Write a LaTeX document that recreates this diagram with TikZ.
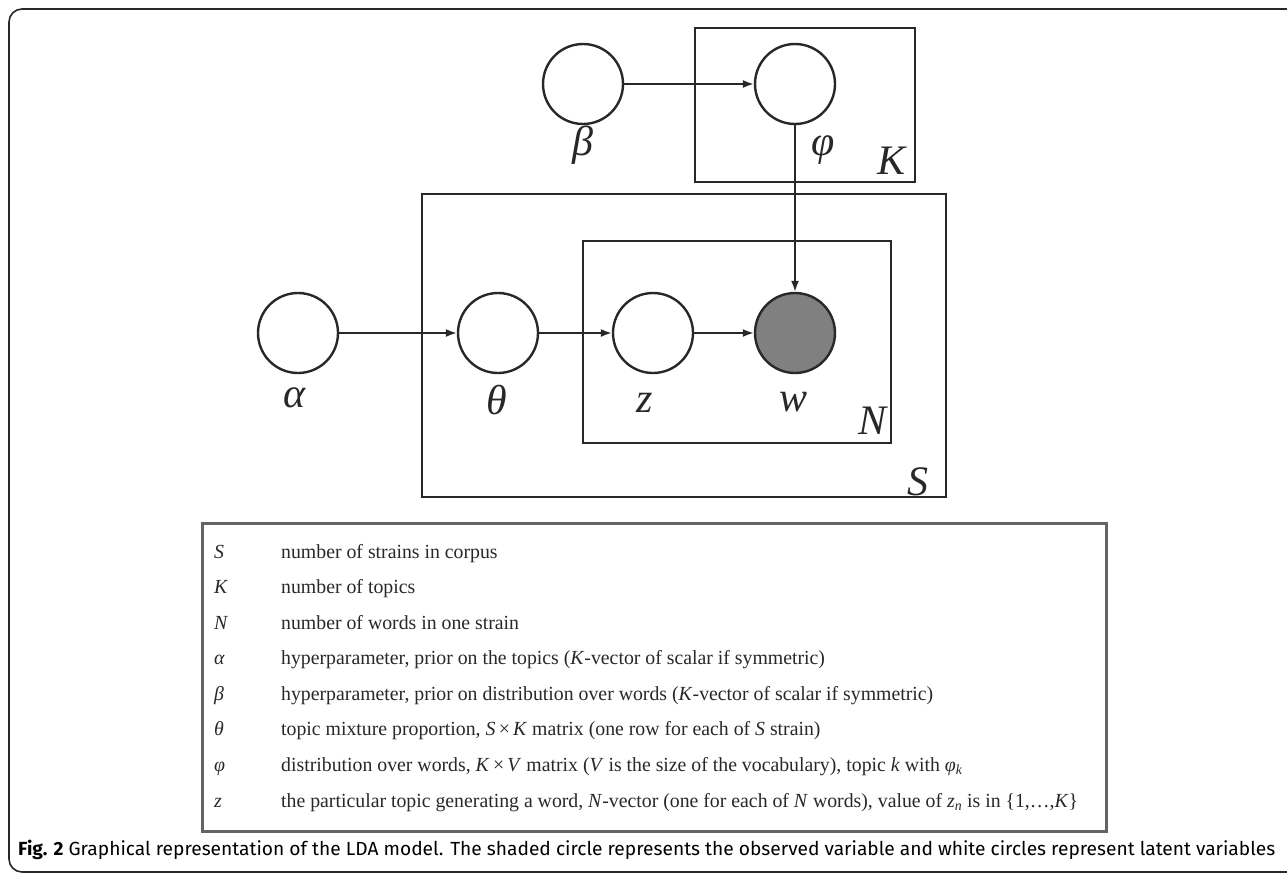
\documentclass[tikz,border=0pt]{standalone}
\usepackage{fontspec}
\usepackage{graphicx}
\setmainfont{Liberation Serif}
\newfontfamily\capfont{Fira Sans}
\usetikzlibrary{arrows.meta}
\definecolor{ink}{RGB}{40,40,40}
\definecolor{obsgray}{RGB}{128,128,128}
\definecolor{boxgray}{RGB}{100,100,100}
\newlength\zrowwd
\newcommand\ztext{the particular topic generating a word, \textit{N}-vector (one for each of \textit{N} words), value of \textit{z}\textsubscript{\textit{n}} is in \{1,\ldots,\textit{K}\}}
\newcommand\tx[1]{\scalebox{\tsx}[1]{#1}}
\begin{document}
\settowidth\zrowwd{\fontsize{20}{24}\selectfont\ztext}%
\pgfmathsetmacro\tsx{797/\zrowwd}%
\begin{tikzpicture}[x=1pt,y=-1pt,
  var/.style={circle,draw=ink,line width=2.4pt,minimum size=80pt,inner sep=0pt},
  obs/.style={var,fill=obsgray},
  plate/.style={draw=ink,line width=2.6pt},
  edge/.style={draw=ink,line width=1.8pt,-{Latex[length=11pt,width=8pt]}},
  lbl/.style={font=\fontsize{42}{42}\selectfont\itshape,inner sep=0pt,text=ink},
  tabtext/.style={font=\fontsize{20}{24}\selectfont,inner sep=0pt,anchor=base west,text=ink},
]
\useasboundingbox (0,0) rectangle (1287,875);
\clip (0,0) rectangle (1287,875);

% outer frame
\draw[ink,line width=1.6pt,rounded corners=13pt] (1400,9) -- (9,9) -- (9,872) -- (1400,872);

% plates
\draw[plate] (695,28) rectangle (915,182);
\draw[plate] (422,194) rectangle (946,497);
\draw[plate] (583,241) rectangle (891,443);

% variables
\node[var] (alpha) at (298,333) {};
\node[var] (theta) at (498,333) {};
\node[var] (z) at (653,333) {};
\node[obs] (w) at (795,333) {};
\node[var] (beta) at (583,84) {};
\node[var] (phi) at (795,84) {};

% labels
\node[lbl] (lalpha) at (295,398) {α};
\node[lbl] (ltheta) at (497,400) {θ};
\node[lbl] (lz) at (645,403) {z};
\node[lbl] (lw) at (793,402) {w};
\node[lbl] (lbeta) at (583,145) {β};
\node[lbl] (lphi) at (823,150) {φ};
\node[lbl] (lK) at (891,161) {K};
\node[lbl] (lN) at (872,421) {N};
\node[lbl] (lS) at (918,482) {S};

% edges
\draw[edge] (alpha) -- (theta);
\draw[edge] (theta) -- (z);
\draw[edge] (z) -- (w);
\draw[edge] (beta) -- (phi);
\draw[edge] (phi) -- (w);

% table
\node[draw=boxgray,line width=2.6pt,minimum width=904pt,minimum height=308pt,anchor=north west,inner sep=0pt] (table) at (201,522) {};
\node[tabtext] (sym0) at (214,558.00) {\tx{\textit{S}}};
\node[tabtext] (desc0) at (281,558.00) {\tx{number of strains in corpus}};
\node[tabtext] (sym1) at (214,593.57) {\tx{\textit{K}}};
\node[tabtext] (desc1) at (281,593.57) {\tx{number of topics}};
\node[tabtext] (sym2) at (214,629.14) {\tx{\textit{N}}};
\node[tabtext] (desc2) at (281,629.14) {\tx{number of words in one strain}};
\node[tabtext] (sym3) at (214,664.71) {\tx{\textit{α}}};
\node[tabtext] (desc3) at (281,664.71) {\tx{hyperparameter, prior on the topics (\textit{K}-vector of scalar if symmetric)}};
\node[tabtext] (sym4) at (214,700.28) {\tx{\textit{β}}};
\node[tabtext] (desc4) at (281,700.28) {\tx{hyperparameter, prior on distribution over words (\textit{K}-vector of scalar if symmetric)}};
\node[tabtext] (sym5) at (214,735.85) {\tx{\textit{θ}}};
\node[tabtext] (desc5) at (281,735.85) {\tx{topic mixture proportion, \textit{S}\,×\,\textit{K} matrix (one row for each of \textit{S} strain)}};
\node[tabtext] (sym6) at (214,771.42) {\tx{\textit{φ}}};
\node[tabtext] (desc6) at (281,771.42) {\tx{distribution over words, \textit{K}\,×\,\textit{V} matrix (\textit{V} is the size of the vocabulary), topic \textit{k} with \textit{φ}\textsubscript{\textit{k}}}};
\node[tabtext] (sym7) at (214,807.00) {\tx{\textit{z}}};
\node[tabtext] (desc7) at (281,807.00) {\tx{\ztext}};

% caption
\node[anchor=base west,inner sep=0pt,text=black] (caption) at (18,855)
 {\resizebox{1257pt}{\height}{\capfont\fontsize{19}{19}\selectfont\textbf{Fig. 2} Graphical representation of the LDA model. The shaded circle represents the observed variable and white circles represent latent variables}};
\end{tikzpicture}
\end{document}
